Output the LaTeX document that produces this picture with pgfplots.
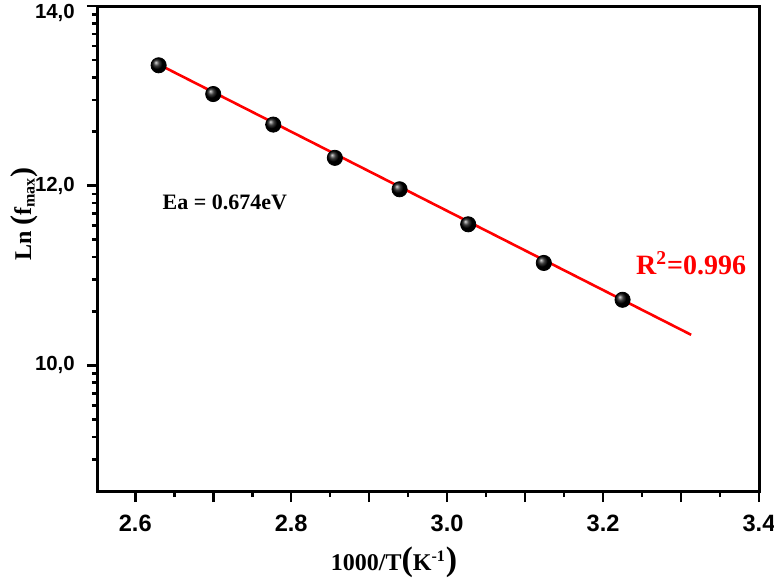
\documentclass[border=0pt]{standalone}
\usepackage{fontspec}
\setmainfont{Liberation Serif}
\setsansfont{Liberation Sans}
\usepackage{pgfplots}
\pgfplotsset{compat=1.18}
\pgfplotstableread{
x y
2.630 13.34
2.700 13.02
2.777 12.68
2.856 12.31
2.939 11.96
3.027 11.57
3.124 11.14
3.225 10.73
}\datatable
\begin{document}
\begin{tikzpicture}
\begin{axis}[name=ax, scale only axis, width=330.5pt, height=242.5pt,
  xmin=2.552, xmax=3.4, ymin=8.6, ymax=14,
  axis line style={line width=1.5pt},
  axis background/.style={draw=black, line width=1.5pt},
  every tick/.style={black, line width=1.3pt},
  tick align=outside, xtick pos=lower, ytick pos=left,
  major tick length=5.5pt, minor tick length=3pt,
  xtick={2.6,2.7,2.8,2.9,3.0,3.1,3.2,3.3,3.4},
  xticklabels={2.6,,2.8,,3.0,,3.2,,3.4},
  minor xtick={2.65,2.75,2.85,2.95,3.05,3.15,3.25,3.35},
  ytick={10,12},
  yticklabels={{10,0},{12,0}},
  extra y ticks={14},
  extra y tick labels={14{,}0},
  extra y tick style={yticklabel style={yshift=-3.5pt}},
  minor ytick={8.954,9.204,9.398,9.556,9.690,9.806,9.908,
               10.602,10.954,11.204,11.398,11.556,11.690,11.806,11.908,
               12.602,12.954,13.204,13.398,13.556,13.690,13.806,13.908},
  xticklabel style={font=\sffamily\bfseries\fontsize{11.8}{14}\selectfont, yshift=-3pt},
  yticklabel style={font=\sffamily\bfseries\fontsize{10.2}{12}\selectfont, xshift=-2.5pt},
  xlabel={1000/T{\fontsize{17}{17}\selectfont(}K\textsuperscript{-1}{\fontsize{17}{17}\selectfont)}},
  xlabel style={font=\bfseries\fontsize{12}{14}\selectfont, at={(axis description cs:0.448,0)}, anchor=center, yshift=-35.5pt},
  ylabel={Ln {\fontsize{15}{15}\selectfont(}f\textsubscript{max}{\fontsize{15}{15}\selectfont)}},
  ylabel style={font=\bfseries\fontsize{12}{14}\selectfont, at={(axis description cs:0,0.571)}, anchor=center, yshift=37pt},
  clip=false,
]
\addplot[only marks, mark=ball, mark size=3.8pt, mark options={ball color=black}] table[x=x,y=y] {\datatable};
\addplot[red, line width=1.3pt] coordinates {(2.630,13.35) (3.313,10.34)};
\node[font=\bfseries\fontsize{11}{13}\selectfont] at (axis cs:2.715,11.81) {Ea = 0.674eV};
\node[font=\bfseries\fontsize{14}{16}\selectfont, text=red] at (axis cs:3.313,11.14) {R\textsuperscript{2}=0.996};
\end{axis}
\pgfresetboundingbox
\path[use as bounding box] ([xshift=-48.9pt,yshift=-46pt]ax.south west) rectangle ([xshift=7.5pt,yshift=3pt]ax.north east);
\end{tikzpicture}
\end{document}
